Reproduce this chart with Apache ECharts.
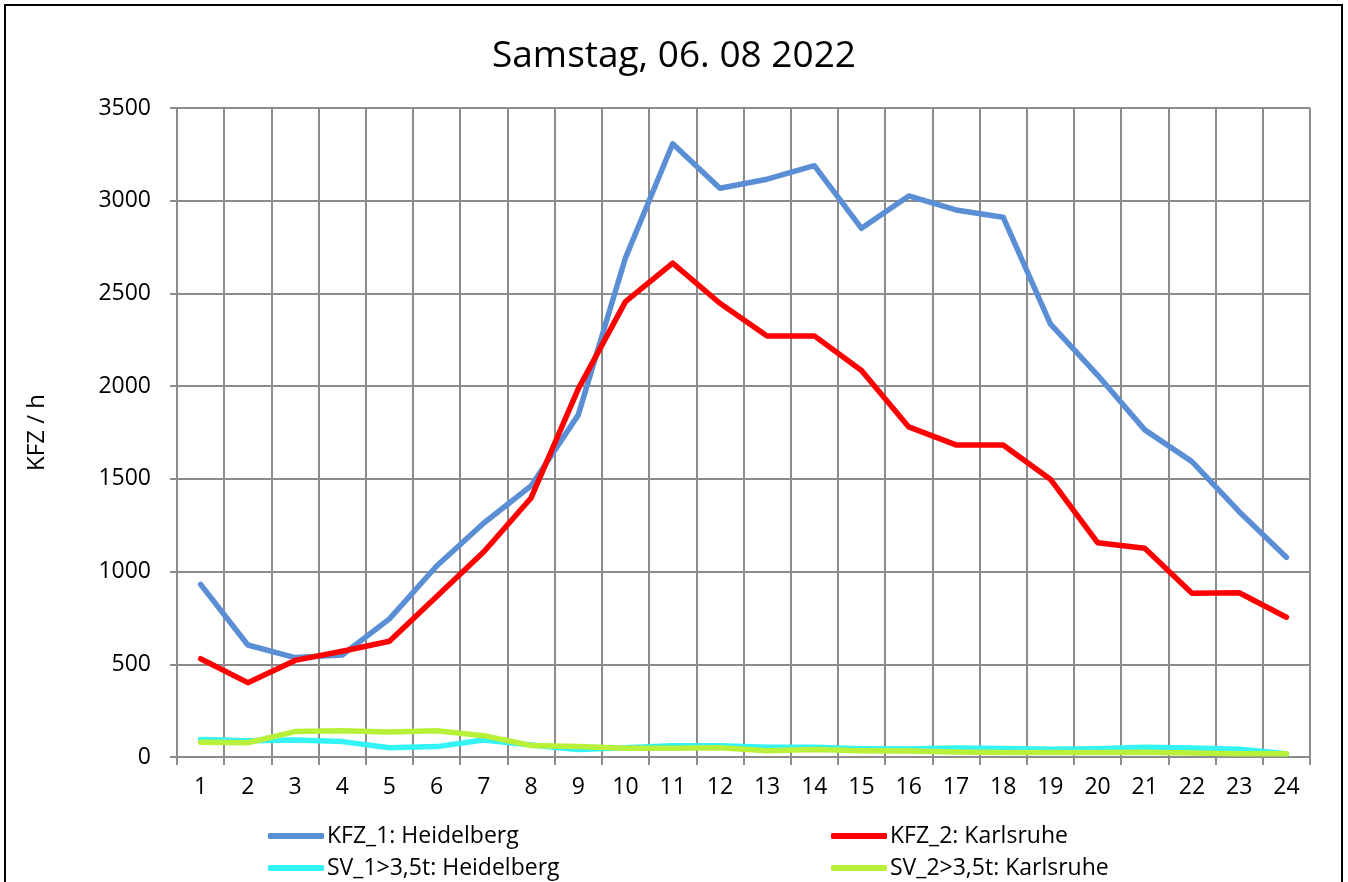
<!DOCTYPE html>
<html>
<head>
<meta charset="utf-8">
<script src="https://cdn.jsdelivr.net/npm/echarts@6/dist/echarts.min.js"></script>
<style>
html,body{margin:0;padding:0;background:#fff;}
#chart{width:1348px;height:882px;}
</style>
</head>
<body>
<div id="chart"></div>
<script>
var categories = ['1','2','3','4','5','6','7','8','9','10','11','12','13','14','15','16','17','18','19','20','21','22','23','24'];
var kfz1 = [931, 604, 536, 550, 745, 1030, 1262, 1462, 1845, 2692, 3307, 3067, 3116, 3189, 2851, 3026, 2950, 2911, 2336, 2060, 1764, 1593, 1323, 1077];
var kfz2 = [530, 401, 521, 570, 624, 866, 1107, 1397, 1985, 2456, 2663, 2447, 2271, 2271, 2084, 1780, 1683, 1683, 1498, 1156, 1126, 883, 886, 754];
var sv1 = [95, 88, 92, 83, 50, 56, 92, 65, 41, 50, 61, 61, 52, 52, 45, 43, 49, 46, 42, 45, 52, 49, 42, 18];
var sv2 = [79, 77, 137, 142, 135, 142, 115, 62, 56, 47, 47, 50, 34, 41, 34, 32, 27, 24, 24, 24, 26, 21, 18, 18];
var seriesNames = ['KFZ_1: Heidelberg', 'KFZ_2: Karlsruhe', 'SV_1>3,5t: Heidelberg', 'SV_2>3,5t: Karlsruhe'];
var yTicks = {min: 0, max: 3500, interval: 500};
var title = 'Samstag, 06. 08 2022';
var yName = 'KFZ / h';

var FONT = 'Open Sans';
var colors = ['#5a8fd6', '#ff0000', '#33f3f7', '#b8f03a'];
var gridColor = '#8c8c8c';

function legend(name, left, top) {
  return {
    data: [name], left: left, top: top, padding: 0, orient: 'horizontal',
    icon: 'roundRect', itemWidth: 56, itemHeight: 6, itemGap: 0,
    textStyle: {fontFamily: FONT, fontSize: 23, color: '#000', padding: [0,0,0,-2], lineHeight: 28},
    selectedMode: false
  };
}
function line(name, data, color, z) {
  return {
    name: name, type: 'line', data: data, showSymbol: false, symbol: 'none', z: z,
    lineStyle: {color: color, width: 5.5, cap: 'round', join: 'round'},
    itemStyle: {color: color}, animation: false
  };
}

var chart = echarts.init(document.getElementById('chart'), null, {renderer: 'canvas'});
chart.setOption({
  animation: false,
  backgroundColor: '#fff',
  title: {text: title, left: 'center', top: 33,
    textStyle: {fontFamily: FONT, fontSize: 37, fontWeight: 'normal', color: '#000'}},
  graphic: [{type: 'rect', shape: {x: 5, y: 5, width: 1337, height: 900},
    style: {fill: null, stroke: '#000', lineWidth: 2}, silent: true, z: 100}],
  legend: [
    legend(seriesNames[0], 268, 822),
    legend(seriesNames[1], 831, 822),
    legend(seriesNames[2], 268, 854),
    legend(seriesNames[3], 831, 854)
  ],
  grid: {left: 177, right: 38, top: 108, bottom: 125, containLabel: false},
  xAxis: {
    type: 'category', data: categories, boundaryGap: true,
    axisLine: {show: true, lineStyle: {color: gridColor, width: 2}},
    axisTick: {show: true, length: 8, alignWithLabel: false, lineStyle: {color: gridColor, width: 2}},
    splitLine: {show: true, lineStyle: {color: gridColor, width: 2}},
    axisLabel: {fontFamily: FONT, fontSize: 23, color: '#000', margin: 19, interval: 0}
  },
  yAxis: {
    type: 'value', min: yTicks.min, max: yTicks.max, interval: yTicks.interval,
    name: yName, nameLocation: 'middle', nameGap: 128, nameRotate: 90,
    nameTextStyle: {fontFamily: FONT, fontSize: 24, color: '#000'},
    axisLine: {show: true, lineStyle: {color: gridColor, width: 2}},
    axisTick: {show: true, length: 7, lineStyle: {color: gridColor, width: 2}},
    splitLine: {show: true, lineStyle: {color: gridColor, width: 2}},
    axisLabel: {fontFamily: FONT, fontSize: 23, color: '#000', margin: 26,
      formatter: function (v) { return String(v); }}
  },
  series: [
    line(seriesNames[0], kfz1, colors[0], 2),
    line(seriesNames[1], kfz2, colors[1], 3),
    line(seriesNames[2], sv1, colors[2], 4),
    line(seriesNames[3], sv2, colors[3], 5)
  ]
});
</script>
</body>
</html>
